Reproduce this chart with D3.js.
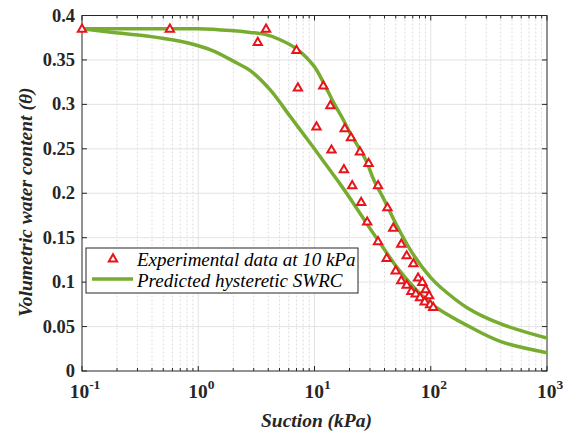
<!DOCTYPE html>
<html>
<head>
<meta charset="utf-8">
<script src="https://d3js.org/d3.v7.min.js"></script>
<style>
    body { margin: 0; background: #fff; }
    svg { display: block; }
    .grid-major { stroke: #dcdcdc; stroke-width: 0.8px; }
    .grid-minor { stroke: #d4d4d4; stroke-width: 0.8px; stroke-dasharray: 2,2; }
    .tick-lab { font-family: "Liberation Serif", "Times New Roman", serif; font-weight: bold; fill: #262626; }
    .ax-title { font-family: "Liberation Serif", "Times New Roman", serif; font-weight: bold; font-style: italic; fill: #262626; font-size: 19.5px; }
    .leg-text { font-family: "Liberation Serif", "Times New Roman", serif; font-style: italic; fill: #000; font-size: 19px; }
</style>
</head>
<body>
<svg width="567" height="432"></svg>
<script>
// measured points (suction kPa, volumetric water content)
var expSuction = [0.1, 0.57, 3.25, 3.83, 7.0, 7.2, 10.4, 11.9, 13.7, 14.0, 17.9, 18.2, 20.6, 21.1,
    24.6, 25.2, 28.4, 29.2, 35.2, 35.2, 41.8, 42.4, 47.6, 49.9, 55.8, 55.8, 62.1, 62.1, 68.1,
    70.9, 74.3, 77.8, 80.9, 84.7, 88.7, 90.6, 96.7, 98.8, 105];
var expTheta = [0.385, 0.385, 0.370, 0.385, 0.361, 0.319, 0.275, 0.321, 0.299, 0.249, 0.227, 0.273, 0.263, 0.209,
    0.247, 0.190, 0.168, 0.234, 0.209, 0.146, 0.127, 0.184, 0.161, 0.113, 0.143, 0.102, 0.130, 0.097, 0.090,
    0.121, 0.087, 0.105, 0.083, 0.100, 0.078, 0.092, 0.085, 0.075, 0.072];

// predicted drying (upper) curve
var dryS = [0.1, 0.3, 1, 1.9, 2.8, 3.7, 5, 7.1, 9.9, 12, 14.6, 17.8, 20.2, 27.5, 32.4, 39.6, 51.6, 69.6, 100, 122, 207, 401, 1000];
var dryT = [0.385, 0.385, 0.385, 0.383, 0.381, 0.379, 0.373, 0.362, 0.343, 0.324, 0.302, 0.282, 0.268, 0.238, 0.215, 0.193, 0.1625, 0.1325, 0.105, 0.094, 0.071, 0.053, 0.037];

// predicted wetting (lower) curve
var wetS = [0.1, 0.186, 0.36, 0.70, 1, 1.36, 2.15, 2.8, 4.18, 6.21, 9.24, 12.9, 16.7, 21.8, 28.4, 37.1, 51.6, 71.8, 100, 122, 207, 401, 1000];
var wetT = [0.385, 0.381, 0.377, 0.371, 0.366, 0.360, 0.3465, 0.338, 0.316, 0.286, 0.256, 0.230, 0.210, 0.188, 0.165, 0.143, 0.116, 0.094, 0.076, 0.068, 0.051, 0.033, 0.0206];

var yTicks = [0, 0.05, 0.1, 0.15, 0.2, 0.25, 0.3, 0.35, 0.4];
var yTickLabels = ["0", "0.05", "0.1", "0.15", "0.2", "0.25", "0.3", "0.35", "0.4"];
var xDecades = [0.1, 1, 10, 100, 1000];
var xExps = ["-1", "0", "1", "2", "3"];
var legendLabels = ["Experimental data at 10 kPa", "Predicted hysteretic SWRC"];

var pL = 82, pR = 547, pT = 15.5, pB = 371;
var green = "#77ac30", red = "#e8141c", axisCol = "#262626";

var svg = d3.select("svg");
var x = d3.scaleLog().domain([0.1, 1000]).range([pL, pR]);
var y = d3.scaleLinear().domain([0, 0.4]).range([pB, pT]);

// minor positions on the log axis
var minors = [];
xDecades.slice(0, 4).forEach(function(d) {
    for (var k = 2; k <= 9; k++) minors.push(d * k);
});

// grid
svg.append("g").selectAll("line").data(minors).enter().append("line")
    .attr("class", "grid-minor")
    .attr("x1", function(d) { return x(d); }).attr("x2", function(d) { return x(d); })
    .attr("y1", pT).attr("y2", pB);
svg.append("g").selectAll("line").data(xDecades.slice(1, 4)).enter().append("line")
    .attr("class", "grid-major")
    .attr("x1", function(d) { return x(d); }).attr("x2", function(d) { return x(d); })
    .attr("y1", pT).attr("y2", pB);
svg.append("g").selectAll("line").data(yTicks.slice(1, 8)).enter().append("line")
    .attr("class", "grid-major")
    .attr("x1", pL).attr("x2", pR)
    .attr("y1", function(d) { return y(d); }).attr("y2", function(d) { return y(d); });

// axes with inward ticks on all sides
var tl = 5, tlMinor = 3;
var gAx = svg.append("g").attr("stroke", axisCol).attr("stroke-width", 1);
xDecades.forEach(function(d) {
    gAx.append("line").attr("x1", x(d)).attr("x2", x(d)).attr("y1", pB).attr("y2", pB - tl);
    gAx.append("line").attr("x1", x(d)).attr("x2", x(d)).attr("y1", pT).attr("y2", pT + tl);
});
minors.forEach(function(d) {
    gAx.append("line").attr("x1", x(d)).attr("x2", x(d)).attr("y1", pB).attr("y2", pB - tlMinor);
    gAx.append("line").attr("x1", x(d)).attr("x2", x(d)).attr("y1", pT).attr("y2", pT + tlMinor);
});
yTicks.forEach(function(d) {
    gAx.append("line").attr("x1", pL).attr("x2", pL + tl).attr("y1", y(d)).attr("y2", y(d));
    gAx.append("line").attr("x1", pR).attr("x2", pR - tl).attr("y1", y(d)).attr("y2", y(d));
});
gAx.append("rect").attr("x", pL).attr("y", pT).attr("width", pR - pL).attr("height", pB - pT)
    .attr("fill", "none");

// tick labels
svg.append("g").selectAll("text").data(yTicks).enter().append("text")
    .attr("class", "tick-lab").attr("font-size", 18.5)
    .attr("x", pL - 7).attr("y", function(d) { return y(d) + 6; })
    .attr("text-anchor", "end")
    .text(function(d, i) { return yTickLabels[i]; });

var xl = svg.append("g").selectAll("text").data(xDecades).enter().append("text")
    .attr("class", "tick-lab").attr("font-size", 19.5)
    .attr("x", function(d) { return x(d) + 3; }).attr("y", 398)
    .attr("text-anchor", "middle");
xl.append("tspan").text("10");
xl.append("tspan").attr("font-size", 13.5).attr("dy", -9).text(function(d, i) { return xExps[i]; });

// axis titles
svg.append("text").attr("class", "ax-title")
    .attr("x", (pL + pR) / 2 + 2).attr("y", 427).attr("text-anchor", "middle")
    .text("Suction (kPa)");
svg.append("text").attr("class", "ax-title")
    .attr("transform", "translate(32," + ((pT + pB) / 2 + 9) + ") rotate(-90)")
    .attr("text-anchor", "middle")
    .text("Volumetric water content (\u03b8)");

// curves
var line = d3.line()
    .x(function(d) { return x(d[0]); })
    .y(function(d) { return y(d[1]); })
    .curve(d3.curveCatmullRom.alpha(0.5));
svg.append("clipPath").attr("id", "clip").append("rect")
    .attr("x", pL).attr("y", pT).attr("width", pR - pL).attr("height", pB - pT);
var plot = svg.append("g").attr("clip-path", "url(#clip)");
[[dryS, dryT], [wetS, wetT]].forEach(function(c) {
    plot.append("path")
        .datum(d3.zip(c[0], c[1]))
        .attr("d", line)
        .attr("fill", "none").attr("stroke", green).attr("stroke-width", 3.5);
});

// markers
var tri = d3.symbol().type(d3.symbolTriangle).size(30);
svg.append("g").selectAll("path").data(d3.zip(expSuction, expTheta)).enter().append("path")
    .attr("d", tri)
    .attr("transform", function(d) { return "translate(" + x(d[0]) + "," + (y(d[1]) + 0.5) + ")"; })
    .attr("fill", "#fff").attr("stroke", red).attr("stroke-width", 2);

// legend
var lg = svg.append("g");
lg.append("rect").attr("x", 86).attr("y", 248).attr("width", 272).attr("height", 45)
    .attr("fill", "#fff").attr("stroke", axisCol).attr("stroke-width", 1);
lg.append("path").attr("d", tri).attr("transform", "translate(113,259)")
    .attr("fill", "#fff").attr("stroke", red).attr("stroke-width", 2);
lg.append("line").attr("x1", 92).attr("x2", 133).attr("y1", 279).attr("y2", 279)
    .attr("stroke", green).attr("stroke-width", 3.5);
lg.selectAll("text").data(legendLabels).enter().append("text")
    .attr("class", "leg-text")
    .attr("x", 137).attr("y", function(d, i) { return 265.5 + i * 21; })
    .text(function(d) { return d; });
</script>
</body>
</html>
